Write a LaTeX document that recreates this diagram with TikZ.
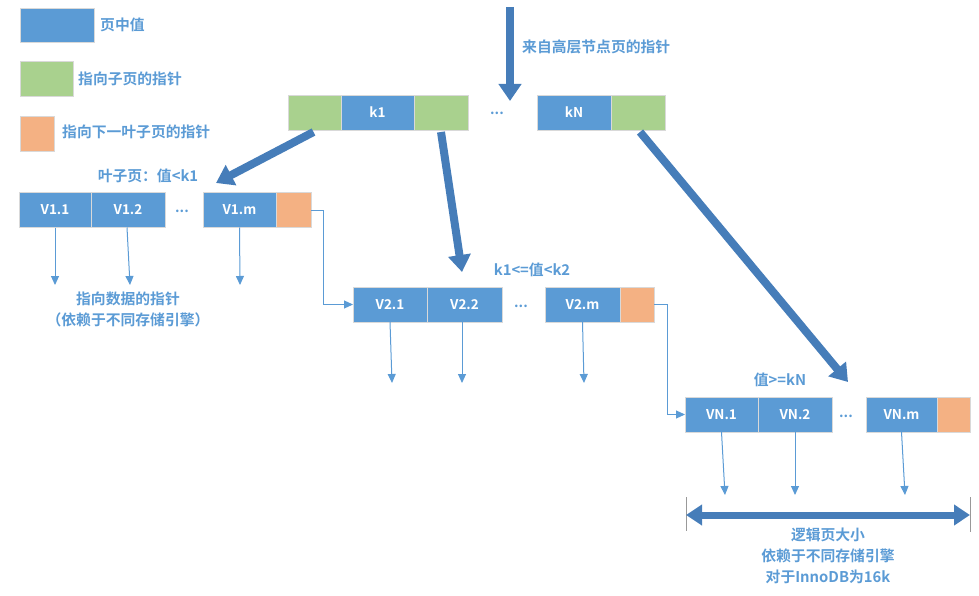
\documentclass[tikz,border=0pt]{standalone}
\usepackage{fontspec}
\setmainfont{Noto Sans CJK SC}[BoldFont={* Bold}]
\usetikzlibrary{arrows.meta,positioning}

\definecolor{valblue}{RGB}{91,155,213}
\definecolor{ptrgreen}{RGB}{169,209,142}
\definecolor{nextorange}{RGB}{244,177,131}
\definecolor{fatblue}{RGB}{70,125,185}
\definecolor{txtblue}{RGB}{91,155,213}

\tikzset{
  cell/.style={draw=black!15, line width=0.6pt, inner sep=0pt, outer sep=0pt,
    minimum height=35pt, text=white, font=\fontsize{13.5}{15}\selectfont\bfseries},
  valbox/.style={cell, fill=valblue},
  ptrbox/.style={cell, fill=ptrgreen},
  nextbox/.style={cell, fill=nextorange},
  dots/.style={text=txtblue, font=\fontsize{14}{15}\selectfont\bfseries},
  lbl/.style={text=txtblue, font=\fontsize{14.8}{21}\selectfont\bfseries, inner sep=0pt},
  fat/.style={draw=fatblue, line width=8pt, -{Triangle[width=22pt,length=17pt]}},
  thin/.style={draw=valblue, line width=1pt, -{Triangle[width=8pt,length=9pt]}},
  link/.style={draw=valblue, line width=1pt, -{Triangle[width=8pt,length=9pt]}}
}

\begin{document}
\begin{tikzpicture}[x=1pt, y=-1pt]
  \useasboundingbox (0,0) rectangle (979,596);

  % legend
  \node[valbox, minimum width=74pt, minimum height=34pt] (lgval) at (57,25) {};
  \node[ptrbox, minimum width=53pt] (lgptr) at (46.5,78.5) {};
  \node[nextbox, minimum width=34pt] (lgnext) at (37,133.5) {};
  \node[lbl, anchor=west] (lgvaltxt) at (100,25) {页中值};
  \node[lbl, anchor=west] (lgptrtxt) at (78,79) {指向子页的指针};
  \node[lbl, anchor=west] (lgnexttxt) at (62,132) {指向下一叶子页的指针};

  % non-leaf page
  \node[ptrbox, minimum width=53pt] (c0) at (314.5,112.5) {};
  \node[valbox, minimum width=73pt, right=0pt of c0] (k1) {k1};
  \node[ptrbox, minimum width=54pt, right=0pt of k1] (c1) {};
  \node[dots] (topdots) at (497,113) {...};
  \node[valbox, minimum width=74pt] (kN) at (574,112.5) {kN};
  \node[ptrbox, minimum width=54pt, right=0pt of kN] (cN) {};

  \coordinate (from) at (510,7);
  \node[lbl, anchor=west] (fromtxt) at (522,47) {来自高层节点页的指针};
  \draw[fat] (from) -- (510,101);

  % leaf page 1
  \node[valbox, minimum width=72pt] (v11) at (55,210) {V1.1};
  \node[valbox, minimum width=74pt, right=0pt of v11] (v12) {V1.2};
  \node[dots] (dots1) at (182,211) {...};
  \node[valbox, minimum width=73pt] (v1m) at (239.5,210) {V1.m};
  \node[nextbox, minimum width=35pt, right=0pt of v1m] (n1) {};
  \node[lbl] (leaf1txt) at (148,176) {叶子页：值<k1};

  % leaf page 2
  \node[valbox, minimum width=74pt] (v21) at (390,304.5) {V2.1};
  \node[valbox, minimum width=75pt, right=0pt of v21] (v22) {V2.2};
  \node[dots] (dots2) at (521,306) {...};
  \node[valbox, minimum width=75pt] (v2m) at (582.5,304.5) {V2.m};
  \node[nextbox, minimum width=34pt, right=0pt of v2m] (n2) {};
  \node[lbl] (leaf2txt) at (532,270) {k1<=值<k2};

  % leaf page N
  \node[valbox, minimum width=73pt] (vN1) at (721.5,414.5) {VN.1};
  \node[valbox, minimum width=74pt, right=0pt of vN1] (vN2) {VN.2};
  \node[dots] (dotsN) at (846,416) {...};
  \node[valbox, minimum width=71pt] (vNm) at (901.5,414.5) {VN.m};
  \node[nextbox, minimum width=33pt, right=0pt of vNm] (nN) {};
  \node[lbl] (leafNtxt) at (780,380) {值>=kN};

  % child pointers
  \coordinate (tip1) at (216,183);
  \coordinate (tip2) at (462,272);
  \coordinate (tipN) at (848,382);
  \draw[fat] ([xshift=-1pt,yshift=-2pt]c0.south) -- (tip1);
  \draw[fat] ([yshift=-2pt]c1.south) -- (tip2);
  \draw[fat] ([xshift=2pt,yshift=-2pt]cN.south) -- (tipN);

  % next-leaf links
  \draw[link] (n1.east) -- ++(12,0) |- (v21.west);
  \draw[link] (n2.east) -- ++(13,0) |- (vN1.west);

  % data pointers
  \coordinate (d11) at (55,285);
  \coordinate (d12) at (130,285);
  \coordinate (d1m) at (240,285);
  \draw[thin] (v11.south) -- (d11);
  \draw[thin] ([xshift=-1pt]v12.south) -- (d12);
  \draw[thin] (v1m.south) -- (d1m);
  \node[lbl, align=center] (datatxt) at (128,309) {指向数据的指针\\（依赖于不同存储引擎）};

  \coordinate (d21) at (392,383);
  \coordinate (d22) at (462,383);
  \coordinate (d2m) at (584,383);
  \draw[thin] (v21.south) -- (d21);
  \draw[thin] ([xshift=-2.5pt]v22.south) -- (d22);
  \draw[thin] (v2m.south) -- (d2m);

  \coordinate (dN1) at (725,495);
  \coordinate (dN2) at (795,495);
  \coordinate (dNm) at (905,495);
  \draw[thin] (vN1.south) -- (dN1);
  \draw[thin] (vN2.south) -- (dN2);
  \draw[thin] (vNm.south) -- (dNm);

  % page size
  \coordinate (szl) at (686,515);
  \coordinate (szr) at (970,515);
  \draw[black!40, line width=1pt] (686,497) -- (686,531);
  \draw[black!40, line width=1pt] (970,497) -- (970,532);
  \draw[draw=fatblue, line width=7pt, {Triangle[width=20pt,length=16pt]}-{Triangle[width=20pt,length=16pt]}] (szl) -- (szr);
  \node[lbl, align=center] (sizetxt) at (828,556) {逻辑页大小\\依赖于不同存储引擎\\对于InnoDB为16k};
\end{tikzpicture}
\end{document}
